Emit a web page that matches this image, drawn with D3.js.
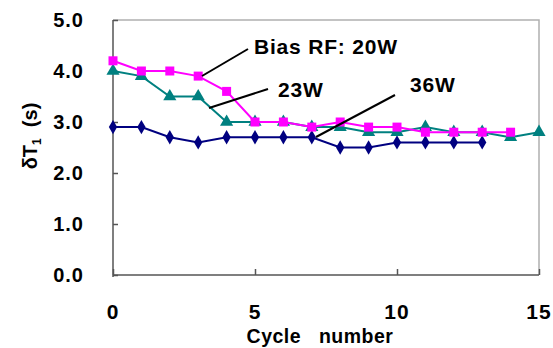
<!DOCTYPE html>
<html>
<head>
<meta charset="utf-8">
<script src="https://cdn.jsdelivr.net/npm/d3@7"></script>
<style>
  body { margin: 0; background: #fff; }
  text { font-family: "Liberation Sans", Arial, sans-serif; font-weight: bold; fill: #000; white-space: pre; }
</style>
</head>
<body>
<svg id="chart" width="553" height="348"></svg>
<script>
// data
var cycles20 = [0, 1, 2, 3, 4, 5, 6, 7, 8, 9, 10, 11, 12, 13, 14];
var bias20W = [4.2, 4.0, 4.0, 3.9, 3.6, 3.0, 3.0, 2.9, 3.0, 2.9, 2.9, 2.8, 2.8, 2.8, 2.8];
var cycles23 = [0, 1, 2, 3, 4, 5, 6, 7, 8, 9, 10, 11, 12, 13, 14, 15];
var bias23W = [4.0, 3.9, 3.5, 3.5, 3.0, 3.0, 3.0, 2.9, 2.9, 2.8, 2.8, 2.9, 2.8, 2.8, 2.7, 2.8];
var cycles36 = [0, 1, 2, 3, 4, 5, 6, 7, 8, 9, 10, 11, 12, 13];
var bias36W = [2.9, 2.9, 2.7, 2.6, 2.7, 2.7, 2.7, 2.7, 2.5, 2.5, 2.6, 2.6, 2.6, 2.6];
var xTicks = [0, 5, 10, 15];
var yTicks = [0, 1, 2, 3, 4, 5];

var svg = d3.select("#chart");
var plotL = 113, plotR = 539, plotT = 20, plotB = 275;

var x = d3.scaleLinear().domain([0, 15]).range([plotL, plotR]);
var y = d3.scaleLinear().domain([0, 5]).range([plotB, plotT]);

// light frame on top / right
svg.append("path")
  .attr("d", "M" + plotL + "," + plotT + "H" + plotR + "V" + plotB)
  .attr("fill", "none").attr("stroke", "#b0b0b0").attr("stroke-width", 1.5);

// y axis, ticks pointing inward
var yAxis = svg.append("g").attr("transform", "translate(" + plotL + ",0)")
  .call(d3.axisRight(y).tickValues(yTicks).tickSize(5).tickFormat(""));
yAxis.select(".domain").attr("stroke", "#555").attr("stroke-width", 1.5).attr("d", "M0," + (plotB + 2) + "V" + plotT);
yAxis.selectAll(".tick line").attr("stroke", "#555").attr("stroke-width", 1.5);

svg.selectAll(".ylab").data(yTicks).enter().append("text")
  .attr("class", "ylab")
  .attr("x", 84).attr("y", function(d) { return y(d) + 7; })
  .attr("text-anchor", "end").attr("font-size", 20).attr("letter-spacing", 1)
  .text(function(d) { return d.toFixed(1); });

// x axis, ticks pointing up
var xAxis = svg.append("g").attr("transform", "translate(0," + plotB + ")")
  .call(d3.axisTop(x).tickValues(xTicks).tickSize(6).tickFormat(""));
xAxis.select(".domain").attr("stroke", "#555").attr("stroke-width", 1.5).attr("d", "M" + plotL + ",0H" + plotR);
xAxis.selectAll(".tick line").attr("stroke", "#555").attr("stroke-width", 1.5);

svg.selectAll(".xlab").data(xTicks).enter().append("text")
  .attr("class", "xlab")
  .attr("x", function(d) { return x(d); }).attr("y", 319)
  .attr("text-anchor", "middle").attr("font-size", 21).attr("letter-spacing", 1)
  .text(function(d) { return d; });

svg.append("text")
  .attr("x", 320).attr("y", 343)
  .attr("text-anchor", "middle").attr("font-size", 19.5).attr("letter-spacing", 0.5)
  .text("Cycle   number");

var yt = svg.append("text")
  .attr("transform", "translate(37,136) rotate(-90)")
  .attr("text-anchor", "middle").attr("font-size", 20);
yt.append("tspan").text("δT");
yt.append("tspan").attr("font-size", 12).attr("dy", 4).text("1");
yt.append("tspan").attr("dy", -4).text("  (s)");

// series
var line = d3.line().x(function(d) { return x(d[0]); }).y(function(d) { return y(d[1]); });

function drawSeries(xs, ys, color, symbol, size) {
  var pts = d3.zip(xs, ys);
  svg.append("path").datum(pts)
    .attr("d", line).attr("fill", "none").attr("stroke", color).attr("stroke-width", 2);
  svg.append("g").selectAll("path").data(pts).enter().append("path")
    .attr("transform", function(d) { return "translate(" + x(d[0]) + "," + y(d[1]) + ")"; })
    .attr("d", d3.symbol().type(symbol).size(size))
    .attr("fill", color);
}

drawSeries(cycles36, bias36W, "#000080", d3.symbolDiamond, 60);
drawSeries(cycles23, bias23W, "#008080", d3.symbolTriangle, 75);
drawSeries(cycles20, bias20W, "#ff00ff", d3.symbolSquare, 81);

// annotations
var notes = [
  { label: "Bias RF: 20W", tx: 254, ty: 54, x1: 248, y1: 49, x2: 202, y2: 76 },
  { label: "23W", tx: 278, ty: 97, x1: 268, y1: 89, x2: 209, y2: 108 },
  { label: "36W", tx: 410, ty: 92, x1: 395, y1: 95, x2: 316, y2: 137 }
];
svg.selectAll(".note-line").data(notes).enter().append("line")
  .attr("x1", function(d) { return d.x1; }).attr("y1", function(d) { return d.y1; })
  .attr("x2", function(d) { return d.x2; }).attr("y2", function(d) { return d.y2; })
  .attr("stroke", "#000").attr("stroke-width", 2);
svg.selectAll(".note").data(notes).enter().append("text")
  .attr("x", function(d) { return d.tx; }).attr("y", function(d) { return d.ty; })
  .attr("font-size", 21).attr("letter-spacing", 0.8)
  .text(function(d) { return d.label; });
</script>
</body>
</html>
